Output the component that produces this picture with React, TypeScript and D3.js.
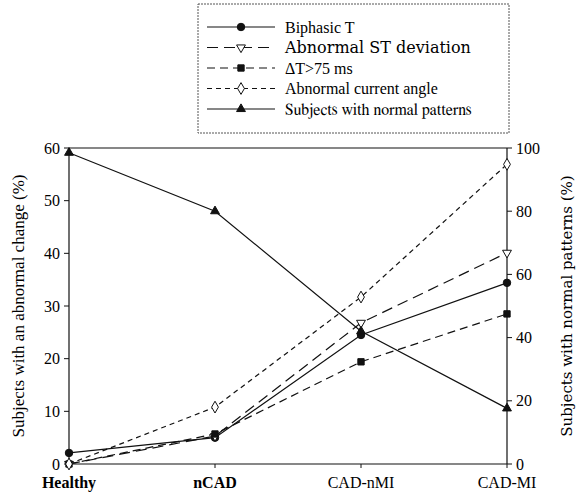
import React from 'react';
import * as d3 from 'd3';

// data
const categories = ['Healthy', 'nCAD', 'CAD-nMI', 'CAD-MI'];
const biphasicT = [2.1, 5.0, 24.5, 34.4];
const abnormalST = [0, 5.3, 26.8, 40.1];
const deltaT = [0, 5.7, 19.4, 28.5];
const currentAngle = [0, 10.8, 31.7, 56.9];
const normalPatterns = [98.5, 80, 42, 17.6]; // right axis
const leftTicks = [0, 10, 20, 30, 40, 50, 60];
const rightTicks = [0, 20, 40, 60, 80, 100];

const seriesNames = [
  'Biphasic T',
  'Abnormal ST deviation',
  '\u0394T>75 ms',
  'Abnormal current angle',
  'Subjects with normal patterns',
];
const probeFonts = ['Liberation Serif', 'DejaVu Serif', 'Tinos', 'Nimbus Roman', 'FreeSerif'];

const width = 584, height = 496;
const marginLeft = 69, marginRight = 77, marginTop = 148, marginBottom = 32;
const INK = '#111';
const FONT = "'Liberation Serif'";

const x = d3.scalePoint<string>().domain(categories).range([marginLeft, width - marginRight]).padding(0);
const yL = d3.scaleLinear().domain([0, 60]).range([height - marginBottom, marginTop]);
const yR = d3.scaleLinear().domain([0, 100]).range([height - marginBottom, marginTop]);

const series = [
  { name: seriesNames[0], values: biphasicT, y: yL, dash: undefined, marker: 'circle', fill: INK },
  { name: seriesNames[1], values: abnormalST, y: yL, dash: '11,6', marker: 'triDown', fill: '#fff' },
  { name: seriesNames[2], values: deltaT, y: yL, dash: '8,5', marker: 'square', fill: INK },
  { name: seriesNames[3], values: currentAngle, y: yL, dash: '5,4', marker: 'diamond', fill: '#fff' },
  { name: seriesNames[4], values: normalPatterns, y: yR, dash: undefined, marker: 'triUp', fill: INK },
];

const symbolFor = (m: string) => {
  if (m === 'circle') return d3.symbol(d3.symbolCircle, 44)() as string;
  if (m === 'square') return d3.symbol(d3.symbolSquare, 40)() as string;
  if (m === 'diamond') return d3.symbol(d3.symbolDiamond, 40)() as string;
  return d3.symbol(d3.symbolTriangle, 34)() as string;
};

const Marker = ({ m, fill, cx, cy }: { m: string; fill: string; cx: number; cy: number }) => (
  <path
    d={symbolFor(m)}
    transform={`translate(${cx},${cy})${m === 'triDown' ? ' rotate(180)' : ''}`}
    fill={fill}
    stroke={INK}
    strokeWidth={1}
  />
);

const App = () => {
  const x0 = marginLeft, x1 = width - marginRight;
  const yb = height - marginBottom, yt = marginTop;
  const midY = (yt + yb) / 2;

  return (
    <svg width={width} height={height} style={{ position: 'absolute', left: 0, top: 0 }}>
      <line x1={x0} x2={x1} y1={yt} y2={yt} stroke={INK} strokeWidth={1.2} />
      <line x1={x0} x2={x1} y1={yb} y2={yb} stroke={INK} strokeWidth={1.2} />
      <line x1={x0} x2={x0} y1={yt} y2={yb} stroke={INK} strokeWidth={1.2} />
      <line x1={x1} x2={x1} y1={yt} y2={yb} stroke={INK} strokeWidth={1.2} />

      {leftTicks.map(t => (
        <g key={'l' + t} transform={`translate(${x0},${yL(t)})`}>
          <line x1={-5} x2={0} stroke={INK} />
          <text x={-9} dy="0.35em" textAnchor="end" style={{ fontFamily: FONT, fontSize: '16px' }}>{t}</text>
        </g>
      ))}

      {rightTicks.map(t => (
        <g key={'r' + t} transform={`translate(${x1},${yR(t)})`}>
          <line x1={0} x2={5} stroke={INK} />
          <text x={9} dy="0.35em" style={{ fontFamily: FONT, fontSize: '16px' }}>{t}</text>
        </g>
      ))}

      {categories.map(c => (
        <g key={c} transform={`translate(${x(c)},${yb})`}>
          <line y1={0} y2={4} stroke={INK} />
          <text
            y={24}
            textAnchor="middle"
            style={{ fontFamily: FONT, fontSize: '16px', fontWeight: c === 'Healthy' || c === 'nCAD' ? 700 : 400 }}
          >
            {c}
          </text>
        </g>
      ))}

      <text transform={`translate(24,${midY}) rotate(-90)`} textAnchor="middle"
        style={{ fontFamily: FONT, fontSize: '17px' }}>
        Subjects with an abnormal change (%)
      </text>
      <text transform={`translate(572,${midY}) rotate(-90)`} textAnchor="middle"
        style={{ fontFamily: "'DejaVu Serif'", fontSize: '15px' }}>
        Subjects with normal patterns (%)
      </text>

      {series.map(s => {
        const line = d3.line<number>()
          .x((_, i) => x(categories[i]) as number)
          .y(d => s.y(d));
        return (
          <path key={'p' + s.name} d={line(s.values) as string} fill="none" stroke={INK}
            strokeWidth={1.2} strokeDasharray={s.dash} />
        );
      })}

      {series.map(s => (
        <g key={'m' + s.name}>
          {s.values.map((v, i) => (
            <Marker key={i} m={s.marker} fill={s.fill} cx={x(categories[i]) as number} cy={s.y(v)} />
          ))}
        </g>
      ))}

      <g>
        <rect x={198} y={4} width={311} height={129} fill="#fff" stroke="#555" strokeWidth={1}
          strokeDasharray="2,1" />
        {series.map((s, i) => {
          const ly = 27 + i * 20.5;
          return (
            <g key={'lg' + s.name}>
              <line x1={207} x2={275} y1={ly} y2={ly} stroke={INK} strokeWidth={1.2} strokeDasharray={s.dash} />
              <Marker m={s.marker} fill={s.fill} cx={241} cy={ly} />
              <text x={285} y={ly} dy="0.35em" style={{ fontFamily: `'${probeFonts[i]}'`, fontSize: '16px' }}>{s.name}</text>
            </g>
          );
        })}
      </g>
    </svg>
  );
};

export default App;
